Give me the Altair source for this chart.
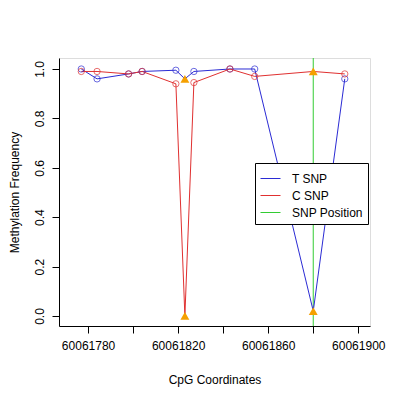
import altair as alt
import pandas as pd

positions = [60061777, 60061784, 60061798, 60061804, 60061819, 60061823,
             60061827, 60061843, 60061854, 60061880, 60061894]
t_values = [1.0, 0.96, 0.98, 0.99, 0.995, 0.96, 0.99, 1.0, 1.0, 0.02, 0.96]
c_values = [0.99, 0.99, 0.98, 0.99, 0.94, 0.0, 0.945, 1.0, 0.97, 0.99, 0.98]
snp_cpg = [False, False, False, False, False, True, False, False, False, True, False]
snp_position = [60061880]
x_ticks = [60061780, 60061800, 60061820, 60061840, 60061860, 60061880, 60061900]
y_ticks = [0.0, 0.2, 0.4, 0.6, 0.8, 1.0]
series_names = ["T SNP", "C SNP", "SNP Position"]
series_colors = ["#2b2bd4", "#e03030", "#33cc33"]

rows = []
for p, t, c, s in zip(positions, t_values, c_values, snp_cpg):
    rows.append({"pos": p, "val": t, "series": "T SNP", "snp": s})
    rows.append({"pos": p, "val": c, "series": "C SNP", "snp": s})
df = pd.DataFrame(rows)
snp_df = pd.DataFrame({"pos": snp_position, "series": ["SNP Position"]})

xscale = alt.Scale(domain=[60061767.1, 60061905.2], nice=False, zero=False)
yscale = alt.Scale(domain=[-0.0405, 1.0445], nice=False, zero=False)
color = alt.Color("series:N", scale=alt.Scale(domain=series_names, range=series_colors),
                  legend=alt.Legend(title=None, orient="none", legendX=196, legendY=105,
                                    symbolType="stroke", symbolSize=400, symbolStrokeWidth=1,
                                    labelFontSize=12, labelFont="Liberation Sans",
                                    labelOffset=11, rowPadding=-6, padding=5,
                                    strokeColor="black", fillColor="white",
                                    labelLimit=200))

xaxis = alt.Axis(values=x_ticks, format="d", title="CpG Coordinates", grid=False,
                 tickSize=7, tickColor="black", domainColor="black", labelFontSize=12,
                 labelFont="Liberation Sans", labelPadding=7, titleFont="Liberation Sans",
                 titleFontSize=12, titleFontWeight="normal", titleY=53, titleBaseline="middle",
                 labelColor="black", titleColor="black")
yaxis = alt.Axis(values=y_ticks, format=".1f", title="Methylation Frequency", grid=False,
                 tickSize=7, tickColor="black", domainColor="black", labelFontSize=12,
                 labelFont="Liberation Sans", labelAngle=-90, labelAlign="center",
                 labelBaseline="bottom", labelPadding=6, titleFont="Liberation Sans",
                 titleFontSize=12, titleFontWeight="normal", titleX=-45, titleBaseline="middle",
                 titleAngle=-90, labelColor="black", titleColor="black")

base = alt.Chart(df)
lines = base.mark_line(strokeWidth=1).encode(
    x=alt.X("pos:Q", scale=xscale, axis=xaxis),
    y=alt.Y("val:Q", scale=yscale, axis=yaxis),
    color=color,
    detail="series:N",
    order="pos:Q",
)
circles = base.transform_filter("!datum.snp").mark_point(shape="circle", size=40, filled=False,
                                                          strokeWidth=1).encode(
    x=alt.X("pos:Q", scale=xscale), y=alt.Y("val:Q", scale=yscale),
    color=alt.Color("series:N", scale=alt.Scale(domain=series_names, range=series_colors), legend=None),
)
tris = base.transform_filter("datum.snp").mark_point(shape="triangle-up", size=80, filled=True,
                                                     color="#f5a000", opacity=1).encode(
    x=alt.X("pos:Q", scale=xscale), y=alt.Y("val:Q", scale=yscale),
)
rule = alt.Chart(snp_df).mark_rule(strokeWidth=1).encode(
    x=alt.X("pos:Q", scale=xscale),
    color=alt.Color("series:N", scale=alt.Scale(domain=series_names, range=series_colors)),
)

chart = alt.layer(rule, lines, circles, tris).properties(
    width=311, height=268,
    autosize=alt.AutoSizeParams(type="none"),
    padding={"left": 51, "top": 50, "right": 22, "bottom": 66},
).configure_view(stroke="#555555", strokeWidth=1).configure(background="white")

chart.save("out.html", embed_options={"renderer": "svg", "actions": False})
